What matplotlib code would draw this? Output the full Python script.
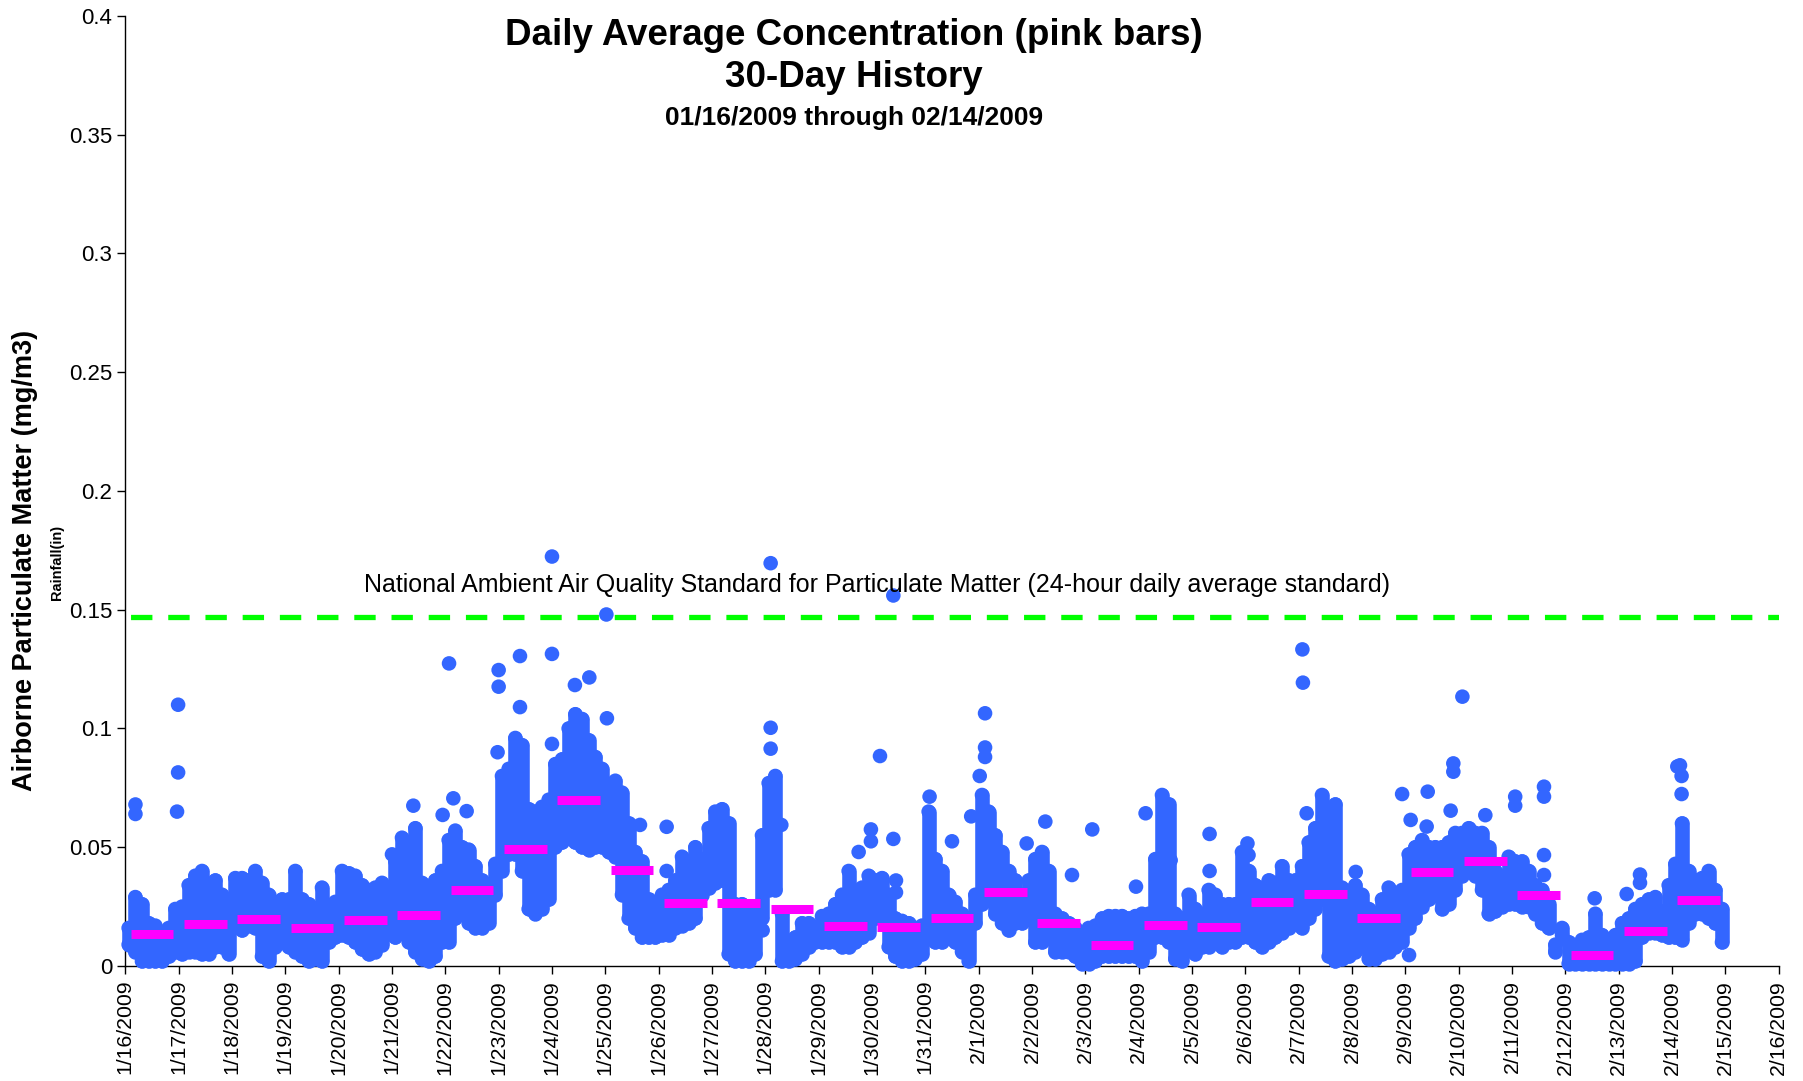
import numpy as np
import pandas as pd
import matplotlib
matplotlib.use("Agg")
import matplotlib.pyplot as plt
from matplotlib.ticker import FuncFormatter

plt.rcParams["font.family"] = ["Liberation Sans", "DejaVu Sans"]

# ── Data ──────────────────────────────────────────────────────────────────
DAYS = pd.date_range("2009-01-16", "2009-02-16", freq="D")
TICK_LABELS = [f"{d.month}/{d.day}/{d.year}" for d in DAYS]

# daily averages (pink bars), 1/16 .. 2/14
DAILY_AVG = [0.0133, 0.0178, 0.0198, 0.0159, 0.0192, 0.0215, 0.0320, 0.0494,
             0.0699, 0.0404, 0.0265, 0.0265, 0.0239, 0.0170, 0.0163, 0.0202,
             0.0312, 0.0182, 0.0087, 0.0174, 0.0163, 0.0271, 0.0302, 0.0201,
             0.0396, 0.0444, 0.0298, 0.0048, 0.0146, 0.0276]

# spread of the readings in each 3-hour block of each day (low / high)
BAND_LOW = [
    [0.009, 0.006, 0.002, 0.002, 0.002, 0.002, 0.004, 0.006],
    [0.005, 0.006, 0.006, 0.005, 0.005, 0.008, 0.008, 0.005],
    [0.017, 0.015, 0.017, 0.016, 0.004, 0.002, 0.008, 0.010],
    [0.008, 0.006, 0.004, 0.002, 0.003, 0.002, 0.010, 0.012],
    [0.013, 0.012, 0.010, 0.007, 0.005, 0.006, 0.009, 0.014],
    [0.012, 0.014, 0.010, 0.006, 0.003, 0.002, 0.004, 0.010],
    [0.010, 0.020, 0.022, 0.018, 0.016, 0.016, 0.018, 0.030],
    [0.040, 0.047, 0.047, 0.040, 0.024, 0.022, 0.024, 0.028],
    [0.050, 0.052, 0.058, 0.052, 0.050, 0.049, 0.050, 0.050],
    [0.048, 0.046, 0.030, 0.020, 0.016, 0.012, 0.012, 0.012],
    [0.013, 0.013, 0.016, 0.017, 0.018, 0.020, 0.030, 0.033],
    [0.035, 0.036, 0.005, 0.002, 0.002, 0.002, 0.005, 0.020],
    [0.032, 0.032, 0.002, 0.002, 0.003, 0.005, 0.008, 0.010],
    [0.010, 0.010, 0.010, 0.008, 0.008, 0.010, 0.012, 0.014],
    [0.020, 0.020, 0.008, 0.004, 0.002, 0.002, 0.003, 0.005],
    [0.016, 0.010, 0.010, 0.012, 0.010, 0.006, 0.002, 0.018],
    [0.026, 0.028, 0.022, 0.018, 0.015, 0.018, 0.018, 0.020],
    [0.010, 0.010, 0.012, 0.006, 0.006, 0.006, 0.004, 0.001],
    [0.001, 0.002, 0.004, 0.004, 0.004, 0.004, 0.004, 0.004],
    [0.002, 0.006, 0.012, 0.012, 0.010, 0.003, 0.002, 0.008],
    [0.005, 0.008, 0.008, 0.010, 0.008, 0.010, 0.010, 0.012],
    [0.012, 0.010, 0.008, 0.010, 0.012, 0.014, 0.016, 0.018],
    [0.016, 0.020, 0.024, 0.028, 0.004, 0.002, 0.003, 0.004],
    [0.006, 0.008, 0.003, 0.003, 0.005, 0.006, 0.008, 0.010],
    [0.016, 0.020, 0.025, 0.028, 0.030, 0.024, 0.026, 0.032],
    [0.038, 0.040, 0.038, 0.032, 0.022, 0.023, 0.025, 0.026],
    [0.026, 0.025, 0.025, 0.022, 0.018, 0.016, 0.006, 0.013],
    [0.001, 0.001, 0.001, 0.001, 0.001, 0.001, 0.001, 0.001],
    [0.001, 0.001, 0.002, 0.012, 0.014, 0.014, 0.013, 0.012],
    [0.012, 0.011, 0.018, 0.022, 0.022, 0.020, 0.018, 0.010],
]
BAND_HIGH = [
    [0.016, 0.029, 0.026, 0.018, 0.017, 0.014, 0.016, 0.024],
    [0.025, 0.034, 0.038, 0.040, 0.032, 0.036, 0.030, 0.022],
    [0.037, 0.037, 0.036, 0.040, 0.035, 0.030, 0.025, 0.028],
    [0.028, 0.040, 0.028, 0.026, 0.022, 0.033, 0.025, 0.027],
    [0.040, 0.039, 0.038, 0.034, 0.032, 0.033, 0.035, 0.031],
    [0.044, 0.054, 0.052, 0.058, 0.035, 0.033, 0.036, 0.040],
    [0.053, 0.057, 0.050, 0.049, 0.042, 0.036, 0.033, 0.043],
    [0.080, 0.083, 0.096, 0.093, 0.066, 0.065, 0.067, 0.070],
    [0.085, 0.087, 0.100, 0.106, 0.104, 0.095, 0.088, 0.083],
    [0.076, 0.078, 0.073, 0.060, 0.048, 0.044, 0.028, 0.026],
    [0.030, 0.032, 0.036, 0.046, 0.042, 0.050, 0.045, 0.058],
    [0.065, 0.066, 0.060, 0.026, 0.026, 0.025, 0.023, 0.055],
    [0.077, 0.080, 0.022, 0.006, 0.012, 0.018, 0.018, 0.016],
    [0.021, 0.022, 0.026, 0.030, 0.040, 0.030, 0.033, 0.038],
    [0.036, 0.037, 0.030, 0.020, 0.019, 0.018, 0.016, 0.017],
    [0.065, 0.045, 0.040, 0.030, 0.027, 0.022, 0.016, 0.030],
    [0.072, 0.065, 0.055, 0.048, 0.040, 0.036, 0.030, 0.036],
    [0.045, 0.048, 0.040, 0.022, 0.020, 0.018, 0.016, 0.013],
    [0.016, 0.017, 0.020, 0.021, 0.021, 0.021, 0.020, 0.021],
    [0.022, 0.022, 0.045, 0.072, 0.068, 0.022, 0.020, 0.030],
    [0.024, 0.022, 0.032, 0.030, 0.026, 0.026, 0.026, 0.048],
    [0.040, 0.034, 0.033, 0.036, 0.035, 0.042, 0.036, 0.036],
    [0.042, 0.052, 0.058, 0.072, 0.036, 0.068, 0.033, 0.024],
    [0.034, 0.030, 0.024, 0.022, 0.028, 0.033, 0.030, 0.032],
    [0.047, 0.050, 0.053, 0.050, 0.050, 0.050, 0.052, 0.056],
    [0.056, 0.058, 0.056, 0.056, 0.050, 0.040, 0.038, 0.046],
    [0.044, 0.044, 0.040, 0.034, 0.032, 0.026, 0.009, 0.016],
    [0.010, 0.008, 0.011, 0.012, 0.022, 0.013, 0.010, 0.013],
    [0.018, 0.020, 0.024, 0.026, 0.028, 0.029, 0.023, 0.034],
    [0.043, 0.060, 0.040, 0.036, 0.037, 0.040, 0.032, 0.024],
]

# isolated readings standing out of the cloud (days after 1/16, value)
SPIKE_DAY = [0.19, 0.19, 0.99, 0.99, 0.97, 5.0, 5.4, 5.95, 6.07, 6.15, 6.4,
             7.0, 7.0, 6.98, 7.4, 7.4, 8.0, 8.0, 8.0, 8.43, 8.7, 9.02, 9.03,
             9.65, 10.15, 10.15, 12.1, 12.1, 12.1, 12.3, 11.95, 13.75, 13.98,
             13.98, 14.15, 14.4, 14.4, 14.45, 14.45, 15.08, 15.5, 15.86, 16.12,
             16.12, 16.12, 16.02, 16.9, 17.25, 17.75, 18.13, 18.95, 19.13, 19.6,
             20.33, 20.33, 21.04, 21.06, 22.07, 22.08, 22.15, 23.07, 23.94,
             24.07, 24.1, 24.42, 24.4, 24.85, 25.07, 24.9, 24.9, 25.5, 26.06,
             26.06, 26.6, 26.6, 26.6, 26.6, 27.55, 28.15, 28.4, 28.4, 29.1,
             29.15, 29.18, 29.18]
SPIKE_VAL = [0.068, 0.064, 0.110, 0.0815, 0.065, 0.047, 0.0675, 0.0636, 0.1274,
             0.0706, 0.0652, 0.1246, 0.1176, 0.090, 0.1305, 0.109, 0.1724,
             0.1314, 0.0935, 0.1183, 0.1215, 0.148, 0.1043, 0.0594, 0.0586,
             0.040, 0.1696, 0.1003, 0.0915, 0.0594, 0.015, 0.048, 0.0575,
             0.0525, 0.0884, 0.156, 0.0535, 0.036, 0.031, 0.0713, 0.0525, 0.063,
             0.1064, 0.092, 0.088, 0.080, 0.0516, 0.0608, 0.0383, 0.0575,
             0.0334, 0.0643, 0.0445, 0.0556, 0.040, 0.0516, 0.0467, 0.1333,
             0.1193, 0.0643, 0.0396, 0.0724, 0.0046, 0.0615, 0.0734, 0.0587,
             0.0654, 0.1134, 0.0853, 0.0818, 0.0635, 0.0713, 0.0675, 0.0755,
             0.0713, 0.0467, 0.0383, 0.0285, 0.0303, 0.0385, 0.035, 0.084,
             0.0845, 0.080, 0.0724]

NAAQS = 0.147

BLUE = "#3366ff"
PINK = "#ff00ff"
GREEN = "#00ff00"

# ── Figure ───────────────────────────────────────────────────────────────
fig = plt.figure(figsize=(18.03, 10.81), dpi=100)
fig.patch.set_facecolor("white")
ax = fig.add_axes([0.0695, 0.1064, 0.917, 0.8788])

n_days = len(BAND_LOW)
n_slot = len(BAND_LOW[0])
slot_x = np.array([[d + (i + 0.5) / n_slot for i in range(n_slot)]
                   for d in range(n_days)]).ravel()
lo = np.ravel(BAND_LOW)
hi = np.ravel(BAND_HIGH)

ax.axhline(NAAQS, color=GREEN, linewidth=3.8,
           linestyle=(6.0, (4.05, 3.0)), zorder=2)

ax.vlines(slot_x, lo, hi, colors=BLUE, linewidth=10.5, capstyle="round",
          zorder=3, clip_on=False)
ax.scatter(slot_x, lo, s=110, color=BLUE, edgecolors="none", zorder=3, clip_on=False)
ax.scatter(slot_x, hi, s=110, color=BLUE, edgecolors="none", zorder=3, clip_on=False)
ax.scatter(SPIKE_DAY, SPIKE_VAL, s=110, color=BLUE, edgecolors="none", zorder=3)

day_idx = np.arange(len(DAILY_AVG))
ax.hlines(DAILY_AVG, day_idx + 0.1, day_idx + 0.9, colors=PINK,
          linewidth=6.5, capstyle="butt", zorder=4)

ax.text(14.1, 0.1605,
        "National Ambient Air Quality Standard for Particulate Matter (24-hour daily average standard)",
        ha="center", va="center", fontsize=18, color="black", zorder=5)

ax.set_xlim(0, len(DAYS) - 1)
ax.set_ylim(0, 0.4)
ax.set_xticks(np.arange(len(DAYS)))
ax.set_xticklabels(TICK_LABELS, rotation=90, fontsize=15.3)
ax.set_yticks(np.arange(0, 0.401, 0.05))
ax.yaxis.set_major_formatter(FuncFormatter(lambda v, p: f"{v:.2f}".rstrip("0").rstrip(".") if v else "0"))
ax.tick_params(axis="y", labelsize=16, direction="out", length=6, width=1)
ax.tick_params(axis="x", direction="out", length=6, width=1, pad=4)
for sp in ("top", "right"):
    ax.spines[sp].set_visible(False)
for sp in ("left", "bottom"):
    ax.spines[sp].set_linewidth(1.0)

fig.text(0.0139, 0.482, "Airborne Particulate Matter (mg/m3)", rotation=90,
         ha="center", va="center", fontsize=19.5, fontweight="bold")
fig.text(0.0318, 0.480, "Rainfall(in)", rotation=90,
         ha="center", va="center", fontsize=10.5, fontweight="bold")

fig.text(0.4737, 0.967, "Daily Average Concentration (pink bars)",
         ha="center", va="center", fontsize=26.5, fontweight="bold")
fig.text(0.4737, 0.928, "30-Day History",
         ha="center", va="center", fontsize=26.5, fontweight="bold")
fig.text(0.4737, 0.891, "01/16/2009 through 02/14/2009",
         ha="center", va="center", fontsize=19, fontweight="bold")

fig.savefig("out.png", dpi=100, facecolor="white")
